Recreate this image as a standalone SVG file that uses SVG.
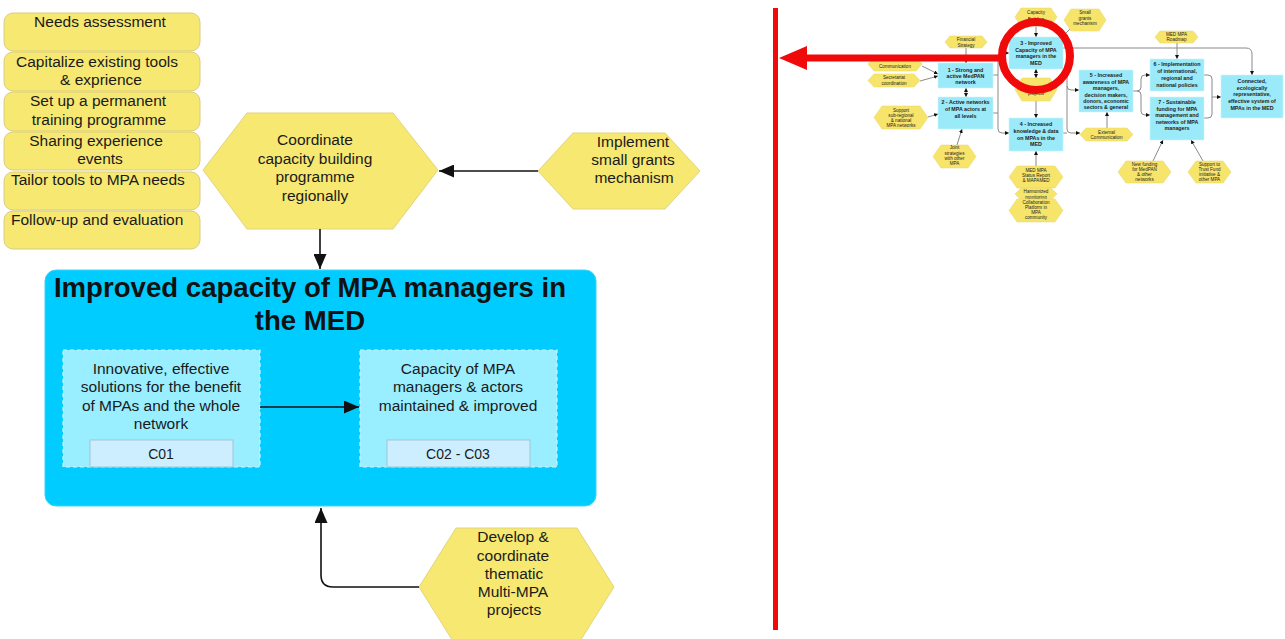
<svg xmlns="http://www.w3.org/2000/svg" width="1285" height="639" viewBox="0 0 1285 639">
<style>
.card{fill:#F7E871;stroke:#D8CC85;stroke-width:1}
.hex{fill:#F7E871;stroke:#E2D47C;stroke-width:1}
.t{font-family:"Liberation Sans",Arial,sans-serif;font-size:15.5px;fill:#1a1a1a;text-anchor:middle}
.tl{font-family:"Liberation Sans",Arial,sans-serif;font-size:15.5px;fill:#1a1a1a}
.title{font-family:"Liberation Sans",Arial,sans-serif;font-size:27.6px;font-weight:bold;fill:#111;text-anchor:middle}
.big{fill:#00CCFF;stroke:#3AD5FA;stroke-width:1}
.inner{fill:#99EEFF;stroke:#C9F4FF;stroke-width:1.2;stroke-dasharray:4 3}
.sub{fill:#CCEEFF;stroke:#9FC6D6;stroke-width:1}
.conn{fill:none;stroke:#111;stroke-width:1.6}
.mhex{fill:#F7E56B;stroke:#E6D46A;stroke-width:0.5}
.mbox{fill:#9BEAF9;stroke:#CBF3FC;stroke-width:0.6}
.mt{font-family:"Liberation Sans",Arial,sans-serif;font-size:4.6px;fill:#222;text-anchor:middle}
.mb{font-family:"Liberation Sans",Arial,sans-serif;font-size:5.3px;font-weight:bold;fill:#222;text-anchor:middle}
.mc{fill:none;stroke:#8a8a8a;stroke-width:1}
.red{fill:none;stroke:#F00A0A}
</style>
<defs>
<marker id="ah" viewBox="0 0 15 13" markerWidth="15" markerHeight="13" refX="15" refY="6.5" orient="auto" markerUnits="userSpaceOnUse"><path d="M0,0 L15,6.5 L0,13 z" fill="#111"/></marker>
<marker id="ma" viewBox="0 0 10 10" markerWidth="4" markerHeight="4" refX="10" refY="5" orient="auto-start-reverse" markerUnits="userSpaceOnUse"><path d="M0,0 L10,5 L0,10 z" fill="#111"/></marker>
</defs>
<rect width="1285" height="639" fill="#fff"/>

<!-- left activity cards -->
<g id="card-needs"><rect class="card" x="4" y="13" width="196" height="38" rx="9"/><text class="t" x="100" y="27">Needs assessment</text></g>
<g id="card-capitalize"><rect class="card" x="4" y="52" width="196" height="39" rx="9"/><text class="t" x="97" y="67">Capitalize existing tools</text><text class="t" x="101" y="85">&amp; exprience</text></g>
<g id="card-training"><rect class="card" x="4" y="92" width="196" height="39" rx="9"/><text class="t" x="98" y="106">Set up a permanent</text><text class="t" x="99" y="125">training programme</text></g>
<g id="card-sharing"><rect class="card" x="4" y="132" width="196" height="38" rx="9"/><text class="t" x="96" y="146">Sharing experience</text><text class="t" x="100" y="164">events</text></g>
<g id="card-tailor"><rect class="card" x="4" y="172" width="196" height="38" rx="9"/><text class="tl" x="11" y="185">Tailor tools to MPA needs</text></g>
<g id="card-followup"><rect class="card" x="4" y="211" width="196" height="38" rx="9"/><text class="tl" x="11" y="225">Follow-up and evaluation</text></g>

<!-- hexagons -->
<g id="hex-coordinate"><polygon class="hex" points="203,170 247,113 393,113 438,170 393,229 247,229"/>
<text class="t" x="315" y="145">Coordinate</text><text class="t" x="315" y="164">capacity building</text><text class="t" x="315" y="182">programme</text><text class="t" x="315" y="201">regionally</text></g>
<g id="hex-implement"><polygon class="hex" points="538,171 573,133 665,133 700,171 665,209 573,209"/>
<text class="t" x="633" y="147">Implement</text><text class="t" x="633" y="165">small grants</text><text class="t" x="634" y="183">mechanism</text></g>
<g id="hex-develop"><polygon class="hex" points="419,587 456,528 577,528 614,587 577,646 456,646"/>
<text class="t" x="513" y="542">Develop &amp;</text><text class="t" x="513" y="561">coordinate</text><text class="t" x="514" y="579">thematic</text><text class="t" x="513" y="597">Multi-MPA</text><text class="t" x="514" y="615">projects</text></g>

<!-- main outcome box -->
<g id="outcome">
<rect class="big" x="45" y="270" width="551" height="236" rx="11"/>
<text class="title" x="310" y="297">Improved capacity of MPA managers in</text>
<text class="title" x="310" y="330">the MED</text>
</g>
<g id="sub-innovative">
<rect class="inner" x="63" y="350" width="197" height="117"/>
<text class="t" x="161" y="374">Innovative, effective</text>
<text class="t" x="161" y="392">solutions for the benefit</text>
<text class="t" x="161" y="411">of MPAs and the whole</text>
<text class="t" x="161" y="429">network</text>
<rect class="sub" x="90" y="440" width="143" height="27"/>
<text class="t" x="161" y="459" style="font-size:14px">C01</text>
</g>
<g id="sub-capacity">
<rect class="inner" x="360" y="350" width="197" height="117"/>
<text class="t" x="458" y="374">Capacity of MPA</text>
<text class="t" x="458" y="392">managers &amp; actors</text>
<text class="t" x="458" y="411">maintained &amp; improved</text>
<rect class="sub" x="387" y="440" width="143" height="27"/>
<text class="t" x="458" y="459" style="font-size:14px">C02 - C03</text>
</g>

<!-- main connectors -->
<g id="connectors">
<path class="conn" d="M538,171 H439" marker-end="url(#ah)"/>
<path class="conn" d="M320,229 V269" marker-end="url(#ah)"/>
<path class="conn" d="M260,407 H359" marker-end="url(#ah)"/>
<path class="conn" d="M419,587 H333 Q321,587 321,575 V508" marker-end="url(#ah)"/>
</g>

<!-- mini overview diagram -->
<g id="mini-connectors">
<path class="mc" d="M1036,26 V37" marker-end="url(#ma)"/>
<path class="mc" d="M1070,29 L1062,37" marker-end="url(#ma)"/>
<path class="mc" d="M1036,78 V69" marker-start="url(#ma)" marker-end="url(#ma)"/>
<path class="mc" d="M1036,101 V118" marker-end="url(#ma)"/>
<path class="mc" d="M966,48 V63" marker-end="url(#ma)"/>
<path class="mc" d="M922,66 L938,74" marker-end="url(#ma)"/>
<path class="mc" d="M920,81 L938,76" marker-end="url(#ma)"/>
<path class="mc" d="M966,88 V97" marker-start="url(#ma)" marker-end="url(#ma)"/>
<path class="mc" d="M928,117 L938,114" marker-end="url(#ma)"/>
<path class="mc" d="M957,145 L962,129" marker-end="url(#ma)"/>
<path class="mc" d="M1009,53 H1002 Q998,53 998,57 V129 Q998,133 1002,133 H1009" marker-start="url(#ma)" marker-end="url(#ma)"/>
<path class="mc" d="M993,75 H998 M993,113 H998"/>
<path class="mc" d="M1063,48 H1246 Q1252,48 1252,54 V75" marker-end="url(#ma)"/>
<path class="mc" d="M1067,48 V129 Q1067,133 1071,133 H1080" marker-end="url(#ma)"/>
<path class="mc" d="M1063,133 H1067"/>
<path class="mc" d="M1067,86 Q1067,90 1071,90 H1079" marker-end="url(#ma)"/>
<path class="mc" d="M1133,91 H1137 Q1141,91 1141,87 V79 Q1141,75 1145,75 H1150" marker-end="url(#ma)"/>
<path class="mc" d="M1137,91 Q1141,91 1141,95 V111 Q1141,115 1145,115 H1150" marker-end="url(#ma)"/>
<path class="mc" d="M1177,43 V59" marker-end="url(#ma)"/>
<path class="mc" d="M1204,75 H1208 Q1212,75 1212,79 V114 Q1212,118 1208,118 H1204"/>
<path class="mc" d="M1212,97 H1221" marker-end="url(#ma)"/>
<path class="mc" d="M1153,161 L1163,140" marker-end="url(#ma)"/>
<path class="mc" d="M1203,161 L1191,140" marker-end="url(#ma)"/>
<path class="mc" d="M1107,128 V112" marker-end="url(#ma)"/>
<path class="mc" d="M1036,166 V151" marker-end="url(#ma)"/>
</g>

<g id="m-capbuild"><polygon class="mhex" points="1015,17 1021,8 1051,8 1057,17 1051,26 1021,26"/><text class="mt" x="1036" y="14">Capacity</text><text class="mt" x="1036" y="20.5">Building</text></g>
<g id="m-smallgrants"><polygon class="mhex" points="1064,20 1071,9 1099,9 1106,20 1099,31 1071,31"/><text class="mt" x="1085" y="14">Small</text><text class="mt" x="1085" y="19.5">grants</text><text class="mt" x="1085" y="25">mechanism</text></g>
<g id="m-financial"><polygon class="mhex" points="945,42 950,36 982,36 987,42 982,48 950,48"/><text class="mt" x="966" y="41">Financial</text><text class="mt" x="966" y="46.5">Strategy</text></g>
<g id="m-communication"><polygon class="mhex" points="868,64 874,57 916,57 922,64 916,71 874,71"/><text class="mt" x="895" y="67.5">Communication</text></g>
<g id="m-secretariat"><polygon class="mhex" points="868,80.5 874,74 914,74 920,80.5 914,87 874,87"/><text class="mt" x="894" y="79">Secretariat</text><text class="mt" x="894" y="84.5">coordination</text></g>
<g id="m-support"><polygon class="mhex" points="874,117.5 882,106 920,106 928,117.5 920,129 882,129"/><text class="mt" x="901" y="111.5">Support</text><text class="mt" x="901" y="116.5">sub-regional</text><text class="mt" x="901" y="121.5">&amp; national</text><text class="mt" x="901" y="126.5">MPA networks</text></g>
<g id="m-joint"><polygon class="mhex" points="933,156.5 941,145 968,145 976,156.5 968,168 941,168"/><text class="mt" x="954.5" y="149">Joint</text><text class="mt" x="954.5" y="154.5">strategies</text><text class="mt" x="954.5" y="160">with other</text><text class="mt" x="954.5" y="165">MPA</text></g>
<g id="m-projects"><polygon class="mhex" points="1015,89.5 1022,78 1050,78 1057,89.5 1050,101 1022,101"/><text class="mt" x="1036" y="94.5">projects</text></g>
<g id="m-roadmap"><polygon class="mhex" points="1155,37 1160,31 1193,31 1198,37 1193,43 1160,43"/><text class="mt" x="1176.5" y="35.5">MED MPA</text><text class="mt" x="1176.5" y="41">Roadmap</text></g>
<g id="m-extcomm"><polygon class="mhex" points="1080,134.5 1086,128 1127,128 1133,134.5 1127,141 1086,141"/><text class="mt" x="1106.5" y="133.5">External</text><text class="mt" x="1106.5" y="139">Communication</text></g>
<g id="m-status"><polygon class="mhex" points="1009,177 1017,166 1055,166 1063,177 1055,188 1017,188"/><text class="mt" x="1036" y="171.5">MED MPA</text><text class="mt" x="1036" y="176.5">Status Report</text><text class="mt" x="1036" y="181.5">&amp; MAPAMED</text></g>
<g id="m-harmonized"><polygon class="mhex" points="1015,194 1021,188 1051,188 1057,194 1051,200 1021,200"/><text class="mt" x="1036" y="192.5">Harmonized</text><text class="mt" x="1036" y="198.5">monitoring</text></g>
<g id="m-collab"><polygon class="mhex" points="1009,210.5 1017,199 1055,199 1063,210.5 1055,222 1017,222"/><text class="mt" x="1036" y="203.5">Collaboration</text><text class="mt" x="1036" y="208.5">Platform in</text><text class="mt" x="1036" y="213.5">MPA</text><text class="mt" x="1036" y="218.5">community</text></g>
<g id="m-newfunding"><polygon class="mhex" points="1118,172 1126,161 1163,161 1171,172 1163,183 1126,183"/><text class="mt" x="1144.5" y="165.5">New funding</text><text class="mt" x="1144.5" y="170.5">for MedPAN</text><text class="mt" x="1144.5" y="175.5">&amp; other</text><text class="mt" x="1144.5" y="180.5">networks</text></g>
<g id="m-trustfund"><polygon class="mhex" points="1188,172 1196,161 1223,161 1231,172 1223,183 1196,183"/><text class="mt" x="1209.5" y="165.5">Support to</text><text class="mt" x="1209.5" y="170.5">Trust Fund</text><text class="mt" x="1209.5" y="175.5">initiative &amp;</text><text class="mt" x="1209.5" y="180.5">other MPA</text></g>

<g id="m-box1"><rect class="mbox" x="938" y="63" width="55" height="25"/><text class="mb" x="965.5" y="72">1 - Strong and</text><text class="mb" x="965.5" y="78">active MedPAN</text><text class="mb" x="965.5" y="84">network</text></g>
<g id="m-box2"><rect class="mbox" x="938" y="97" width="55" height="32"/><text class="mb" x="965.5" y="104">2 - Active networks</text><text class="mb" x="965.5" y="111">of MPA actors at</text><text class="mb" x="965.5" y="118">all levels</text></g>
<g id="m-box3"><rect class="mbox" x="1009" y="37" width="54" height="32"/><text class="mb" x="1036" y="45">3 - Improved</text><text class="mb" x="1036" y="51.5">Capacity of MPA</text><text class="mb" x="1036" y="58">managers in the</text><text class="mb" x="1036" y="64.5">MED</text></g>
<g id="m-box4"><rect class="mbox" x="1009" y="118" width="54" height="33"/><text class="mb" x="1036" y="126">4 - Increased</text><text class="mb" x="1036" y="133">knowledge &amp; data</text><text class="mb" x="1036" y="139.5">on MPAs in the</text><text class="mb" x="1036" y="146">MED</text></g>
<g id="m-box5"><rect class="mbox" x="1079" y="70" width="54" height="42"/><text class="mb" x="1106" y="77">5 - Increased</text><text class="mb" x="1106" y="83.5">awareness of MPA</text><text class="mb" x="1106" y="90">managers,</text><text class="mb" x="1106" y="96.5">decision makers,</text><text class="mb" x="1106" y="103">donors, economic</text><text class="mb" x="1106" y="109">sectors &amp; general</text></g>
<g id="m-box6"><rect class="mbox" x="1150" y="59" width="54" height="32"/><text class="mb" x="1177" y="66">6 - Implementation</text><text class="mb" x="1177" y="73">of international,</text><text class="mb" x="1177" y="80">regional and</text><text class="mb" x="1177" y="86.5">national policies</text></g>
<g id="m-box7"><rect class="mbox" x="1150" y="97" width="54" height="43"/><text class="mb" x="1177" y="104">7 - Sustainable</text><text class="mb" x="1177" y="110.5">funding for MPA</text><text class="mb" x="1177" y="117">management and</text><text class="mb" x="1177" y="123.5">networks of MPA</text><text class="mb" x="1177" y="130">managers</text></g>
<g id="m-goal"><rect class="mbox" x="1221" y="75" width="62" height="43"/><text class="mb" x="1252" y="83">Connected,</text><text class="mb" x="1252" y="89.5">ecologically</text><text class="mb" x="1252" y="96">representative,</text><text class="mb" x="1252" y="103">effective system of</text><text class="mb" x="1252" y="109.5">MPAs in the MED</text></g>

<!-- red annotation -->
<g id="annotation">
<line class="red" x1="775.5" y1="8" x2="775.5" y2="630" stroke-width="5"/>
<line class="red" x1="1002" y1="58" x2="804" y2="58" stroke-width="7"/>
<polygon points="779,58 807,46 807,70" fill="#F00A0A"/>
<circle class="red" cx="1036" cy="56" r="34" stroke-width="8"/>
</g>
</svg>
